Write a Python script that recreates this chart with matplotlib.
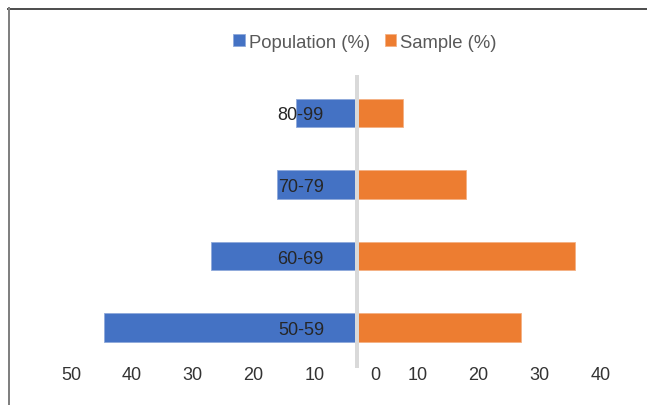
import matplotlib
matplotlib.use("Agg")
import matplotlib.pyplot as plt
from matplotlib.lines import Line2D
from matplotlib.transforms import ScaledTranslation, blended_transform_factory

plt.rcParams['font.family'] = ['Liberation Sans', 'DejaVu Sans']

# Age groups and percentage shares
age_groups = ["50-59", "60-69", "70-79", "80-99"]
population_pct = [41.6, 24.0, 13.1, 10.0]
sample_pct = [27.0, 35.9, 17.9, 7.5]
tick_values = [-50, -40, -30, -20, -10, 0, 10, 20, 30, 40]
tick_labels = ["50", "40", "30", "20", "10", "0", "10", "20", "30", "40"]

BLUE = "#4472C4"
ORANGE = "#ED7D31"

W, H, DPI = 647, 406, 100
fig = plt.figure(figsize=(W / DPI, H / DPI), dpi=DPI)

# Axes placement in pixels
ax_left, ax_right, ax_top, ax_bottom = 20, 640, 78.25, 364.25
zero_px, px_per_unit = 357, 6.08
ax = fig.add_axes([ax_left / W, (H - ax_bottom) / H,
                   (ax_right - ax_left) / W, (ax_bottom - ax_top) / H])
ax.set_xlim((ax_left - zero_px) / px_per_unit, (ax_right - zero_px) / px_per_unit)
ax.set_ylim(-0.5, len(age_groups) - 0.5)

y = list(range(len(age_groups)))
pop_bars = ax.barh(y, [-v for v in population_pct], height=0.4, color=BLUE,
                   edgecolor="#8EA9DB", linewidth=0.6, label="Population (%)")
smp_bars = ax.barh(y, sample_pct, height=0.4, color=ORANGE,
                   edgecolor="#F4B183", linewidth=0.6, label="Sample (%)")

# Central category axis
ax.axvline(0, ymin=-0.01, ymax=1, color="#D9D9D9", linewidth=4 * 72 / DPI,
           zorder=3, clip_on=False)

# Category labels sit just left of the central axis
ax.spines['left'].set_position(('data', 0))
ax.set_yticks(y)
ax.set_yticklabels(age_groups, fontsize=13, color="#262626")
ax.tick_params(axis='y', length=0, pad=33 * 72 / DPI)
for lab in ax.get_yticklabels():
    lab.set_zorder(5)

for s in ax.spines.values():
    s.set_visible(False)
ax.set_xticks([])

# Value axis labels (left-side labels shifted slightly right)
trans = blended_transform_factory(ax.transData, ax.transAxes)
for v, t in zip(tick_values, tick_labels):
    dx = 18 / DPI if v <= 0 else 0
    tr = trans + ScaledTranslation(dx, -3 / DPI, fig.dpi_scale_trans)
    ax.text(v, 0, t, transform=tr, ha="center", va="top", fontsize=13,
            color="#333333")

# Legend
fig.legend(handles=[pop_bars, smp_bars], loc="center",
           bbox_to_anchor=(365 / W, 1 - 43 / H), ncol=2, frameon=False,
           fontsize=13.3, labelcolor="#595959", handlelength=0.62,
           handleheight=0.62, handletextpad=0.22, columnspacing=0.8,
           borderpad=0, borderaxespad=0)

# Frame lines along the top and left edges
fig.add_artist(Line2D([8 / W, 1], [1 - 9.5 / H, 1 - 9.5 / H], color="#505050",
                      linewidth=2 * 72 / DPI, transform=fig.transFigure))
fig.add_artist(Line2D([9 / W, 9 / W], [0, 1 - 9 / H], color="#808080",
                      linewidth=2 * 72 / DPI, transform=fig.transFigure))

fig.savefig("out.png", dpi=DPI)
